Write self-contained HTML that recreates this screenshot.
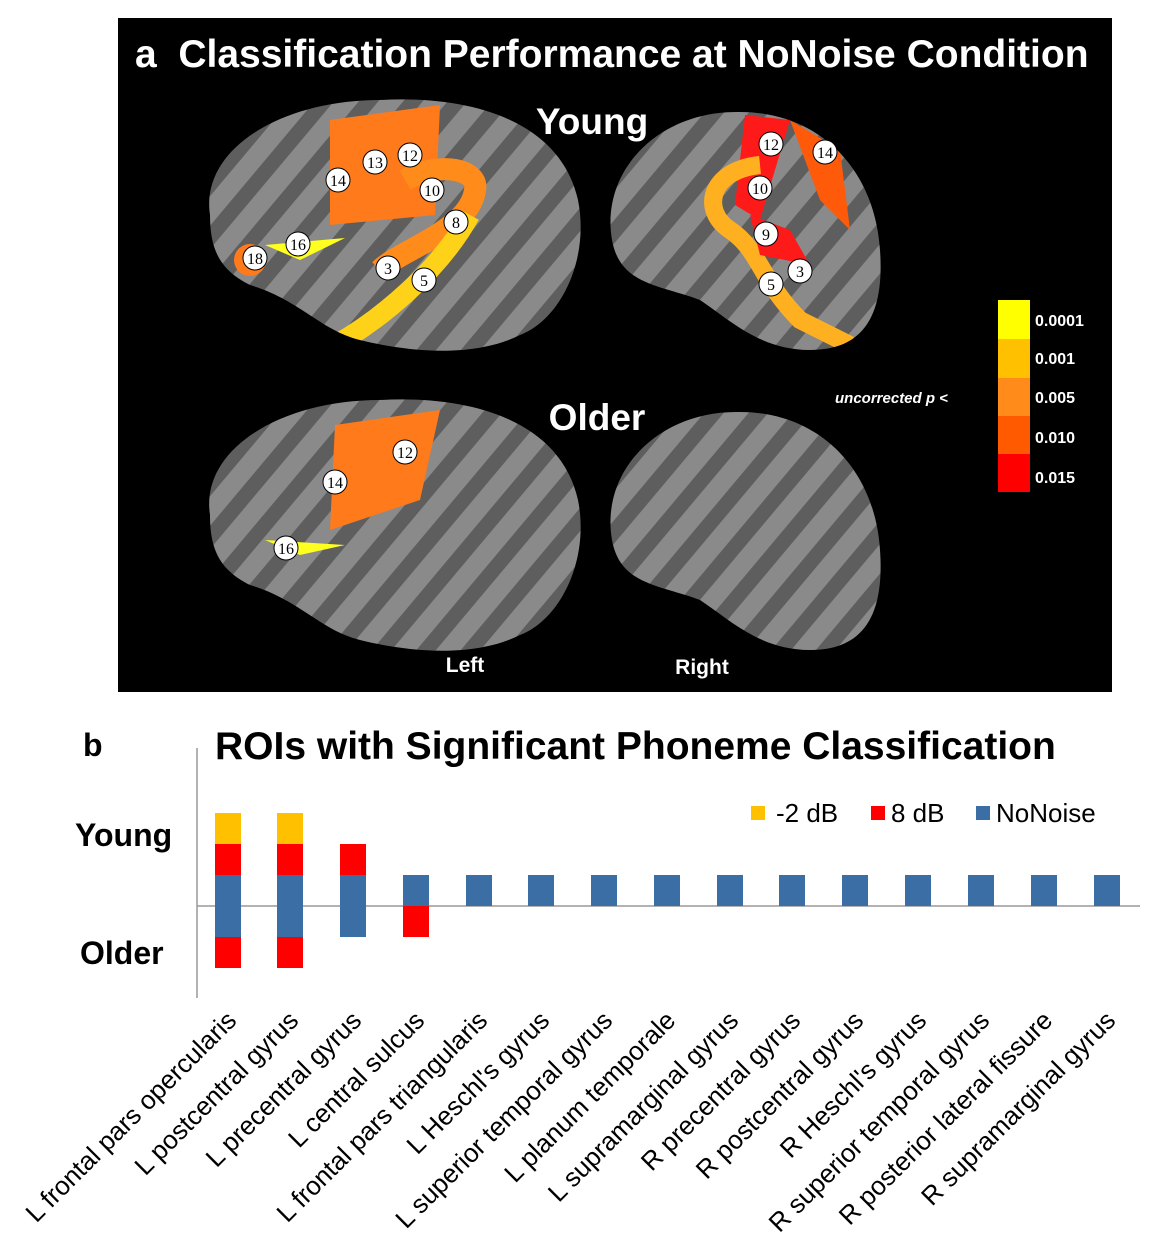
<!DOCTYPE html>
<html><head><meta charset="utf-8"><style>
html,body{margin:0;padding:0;background:#fff;}
svg{display:block;font-family:"Liberation Sans",Arial,sans-serif;}
</style></head><body>
<svg width="1169" height="1252" viewBox="0 0 1169 1252" xmlns="http://www.w3.org/2000/svg">
<defs>
<pattern id="sulci" width="34" height="34" patternUnits="userSpaceOnUse" patternTransform="rotate(-50)">
<rect width="34" height="34" fill="#8a8a8a"/>
<rect y="0" width="34" height="15" fill="#5e5e5e"/>
</pattern>
<clipPath id="bl"><path d="M210,215 C200,150 280,100 380,100 C470,95 560,120 578,200 C590,260 560,320 520,335 C470,360 400,350 360,340 C320,330 300,300 250,285 C220,270 210,250 210,215Z"/></clipPath>
<clipPath id="br"><path d="M612,240 C600,170 660,110 740,112 C820,112 875,170 880,250 C885,320 860,350 810,350 C760,350 730,320 700,300 C660,285 620,285 612,240Z"/></clipPath>
</defs>
<rect x="118" y="18" width="994" height="674" fill="#000"/>
<text x="135" y="67" fill="#fff" font-size="39" font-weight="bold" xml:space="preserve">a  Classification Performance at NoNoise Condition</text>
<text x="592" y="134" fill="#fff" font-size="37" font-weight="bold" text-anchor="middle">Young</text>
<text x="597" y="430" fill="#fff" font-size="37" font-weight="bold" text-anchor="middle">Older</text>
<text x="465" y="672" fill="#fff" font-size="21" font-weight="bold" text-anchor="middle">Left</text>
<text x="702" y="674" fill="#fff" font-size="21" font-weight="bold" text-anchor="middle">Right</text>

<g clip-path="url(#bl)"><rect x="200" y="90" width="400" height="280" fill="url(#sulci)"/>
<path d="M330,120 L440,105 L435,215 L330,225Z" fill="#ff7a1a"/>
<path d="M405,180 C440,160 480,170 475,190 C470,230 400,250 380,270" stroke="#ff8c1a" stroke-width="22" fill="none"/>
<path d="M470,215 C440,270 380,320 335,345" stroke="#ffd21a" stroke-width="20" fill="none"/>
<path d="M265,245 L345,238 L300,260Z" fill="#ffff20"/>
<circle cx="250" cy="260" r="16" fill="#ff7a1a"/>
</g>
<g clip-path="url(#br)"><rect x="600" y="100" width="300" height="260" fill="url(#sulci)"/>
<path d="M745,115 L790,120 L760,220 L735,205Z" fill="#ff1a1a"/>
<path d="M790,120 L840,150 L850,230 L820,200Z" fill="#ff5a0a"/>
<path d="M760,165 C710,170 700,210 730,230 C760,250 760,280 800,320 L850,345" stroke="#ffb020" stroke-width="18" fill="none"/>
<path d="M750,215 L790,230 L810,265 L760,255Z" fill="#ff1a1a"/>
</g>
<g transform="translate(0,300)"><g clip-path="url(#bl)"><rect x="200" y="90" width="400" height="280" fill="url(#sulci)"/>
<path d="M335,125 L440,110 L420,200 L330,230Z" fill="#ff7a1a"/>
<path d="M265,240 L345,245 L300,255Z" fill="#ffff20"/>
</g></g>
<g transform="translate(0,300)"><g clip-path="url(#br)"><rect x="600" y="100" width="300" height="260" fill="url(#sulci)"/></g></g>

<g font-size="16" text-anchor="middle" fill="#000" font-family="Liberation Serif,serif">
<g stroke="#000" stroke-width="1" fill="#fff">
<circle cx="338" cy="180" r="12"/><circle cx="375" cy="162" r="12"/><circle cx="410" cy="155" r="12"/><circle cx="432" cy="190" r="12"/><circle cx="456" cy="222" r="12"/><circle cx="298" cy="244" r="12"/><circle cx="255" cy="258" r="12"/><circle cx="388" cy="268" r="12"/><circle cx="424" cy="280" r="12"/>
<circle cx="771" cy="144" r="12"/><circle cx="825" cy="152" r="12"/><circle cx="760" cy="188" r="12"/><circle cx="766" cy="234" r="12"/><circle cx="800" cy="271" r="12"/><circle cx="771" cy="284" r="12"/>
<circle cx="335" cy="482" r="12"/><circle cx="405" cy="452" r="12"/><circle cx="286" cy="548" r="12"/>
</g>
<text x="338" y="186">14</text><text x="375" y="168">13</text><text x="410" y="161">12</text><text x="432" y="196">10</text><text x="456" y="228">8</text><text x="298" y="250">16</text><text x="255" y="264">18</text><text x="388" y="274">3</text><text x="424" y="286">5</text>
<text x="771" y="150">12</text><text x="825" y="158">14</text><text x="760" y="194">10</text><text x="766" y="240">9</text><text x="800" y="277">3</text><text x="771" y="290">5</text>
<text x="335" y="488">14</text><text x="405" y="458">12</text><text x="286" y="554">16</text>
</g>

<rect x="998" y="300" width="32" height="39" fill="#ffff00"/>
<rect x="998" y="339" width="32" height="39" fill="#ffc000"/>
<rect x="998" y="378" width="32" height="38" fill="#ff8c1a"/>
<rect x="998" y="416" width="32" height="38" fill="#ff5a00"/>
<rect x="998" y="454" width="32" height="38" fill="#ff0000"/>
<g fill="#fff" font-size="16" font-weight="bold">
<text x="1035" y="326">0.0001</text><text x="1035" y="364">0.001</text><text x="1035" y="403">0.005</text><text x="1035" y="443">0.010</text><text x="1035" y="483">0.015</text>
<text x="835" y="403" font-style="italic" font-size="15">uncorrected p &lt;</text>
</g>

<text x="83" y="756" font-size="32" font-weight="bold">b</text>
<text x="215" y="759" font-size="39" font-weight="bold">ROIs with Significant Phoneme Classification</text>
<text x="75" y="846" font-size="32" font-weight="bold">Young</text>
<text x="80" y="964" font-size="32" font-weight="bold">Older</text>
<line x1="197" y1="748" x2="197" y2="998" stroke="#999" stroke-width="1.5"/>
<line x1="197" y1="906" x2="1140" y2="906" stroke="#999" stroke-width="1.5"/>
<rect x="751" y="806" width="14" height="14" fill="#ffc000"/><text x="776" y="822" font-size="26">-2 dB</text>
<rect x="871" y="806" width="14" height="14" fill="#ff0000"/><text x="891" y="822" font-size="26">8 dB</text>
<rect x="976" y="806" width="14" height="14" fill="#3a6ea5"/><text x="996" y="822" font-size="26">NoNoise</text>
<g>
<rect x="215" y="813" width="26" height="31" fill="#ffc000"/><rect x="215" y="844" width="26" height="31" fill="#ff0000"/><rect x="215" y="875" width="26" height="62" fill="#3a6ea5"/><rect x="215" y="937" width="26" height="31" fill="#ff0000"/>
<rect x="277" y="813" width="26" height="31" fill="#ffc000"/><rect x="277" y="844" width="26" height="31" fill="#ff0000"/><rect x="277" y="875" width="26" height="62" fill="#3a6ea5"/><rect x="277" y="937" width="26" height="31" fill="#ff0000"/>
<rect x="340" y="844" width="26" height="31" fill="#ff0000"/><rect x="340" y="875" width="26" height="62" fill="#3a6ea5"/>
<rect x="403" y="875" width="26" height="31" fill="#3a6ea5"/><rect x="403" y="906" width="26" height="31" fill="#ff0000"/>
<g fill="#3a6ea5">
<rect x="466" y="875" width="26" height="31"/><rect x="528" y="875" width="26" height="31"/><rect x="591" y="875" width="26" height="31"/><rect x="654" y="875" width="26" height="31"/><rect x="717" y="875" width="26" height="31"/><rect x="779" y="875" width="26" height="31"/><rect x="842" y="875" width="26" height="31"/><rect x="905" y="875" width="26" height="31"/><rect x="968" y="875" width="26" height="31"/><rect x="1031" y="875" width="26" height="31"/><rect x="1094" y="875" width="26" height="31"/>
</g>
</g>
<g font-size="26" text-anchor="end">
<text transform="translate(238,1022) rotate(-45)">L frontal pars opercularis</text>
<text transform="translate(300,1022) rotate(-45)">L postcentral gyrus</text>
<text transform="translate(363,1022) rotate(-45)">L precentral gyrus</text>
<text transform="translate(426,1022) rotate(-45)">L central sulcus</text>
<text transform="translate(489,1022) rotate(-45)">L frontal pars triangularis</text>
<text transform="translate(551,1022) rotate(-45)">L Heschl's gyrus</text>
<text transform="translate(614,1022) rotate(-45)">L superior temporal gyrus</text>
<text transform="translate(677,1022) rotate(-45)">L planum temporale</text>
<text transform="translate(740,1022) rotate(-45)">L supramarginal gyrus</text>
<text transform="translate(802,1022) rotate(-45)">R precentral gyrus</text>
<text transform="translate(865,1022) rotate(-45)">R postcentral gyrus</text>
<text transform="translate(928,1022) rotate(-45)">R Heschl's gyrus</text>
<text transform="translate(991,1022) rotate(-45)">R superior temporal gyrus</text>
<text transform="translate(1054,1022) rotate(-45)">R posterior lateral fissure</text>
<text transform="translate(1117,1022) rotate(-45)">R supramarginal gyrus</text>
</g>
</svg>
</body></html>
